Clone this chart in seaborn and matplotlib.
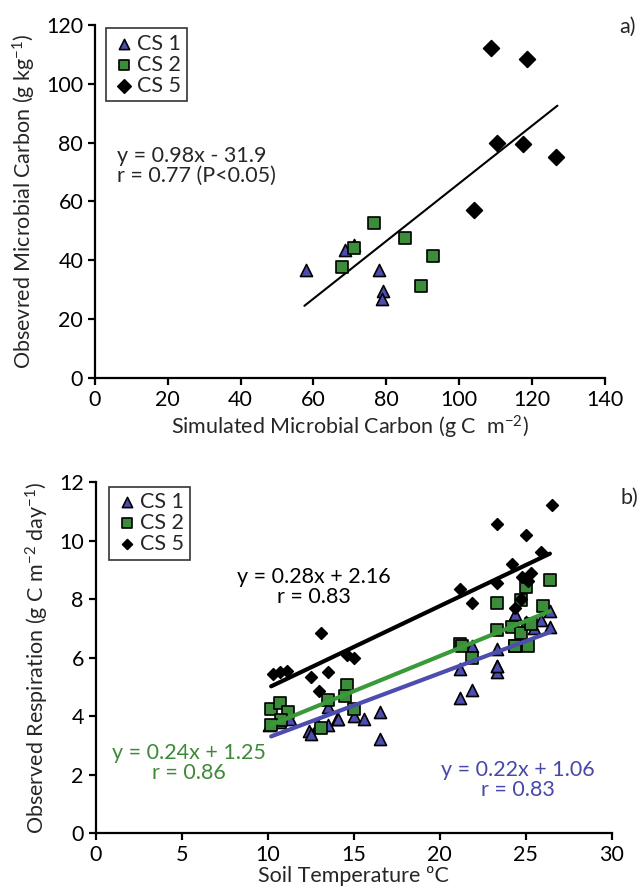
import numpy as np
import pandas as pd
import seaborn as sns
import matplotlib.pyplot as plt

# panel a: simulated vs observed microbial carbon
a_cs1_x = [58.0, 68.7, 71.0, 77.9, 79.0, 78.8]
a_cs1_y = [36.5, 43.6, 45.3, 36.7, 29.4, 26.7]
a_cs2_x = [76.7, 85.2, 92.8, 89.6, 67.7, 71.2]
a_cs2_y = [52.8, 47.4, 41.3, 31.1, 37.6, 44.1]
a_cs5_x = [104.1, 108.8, 118.7, 110.4, 117.5, 126.5]
a_cs5_y = [57.2, 112.1, 108.6, 79.9, 79.4, 75.0]
a_fit = (0.98, -31.9)
a_fit_x = [57.5, 127.0]

# panel b: soil temperature vs respiration
b_cs1_x = [10.1, 10.7, 11.3, 12.4, 12.5, 12.9, 13.5, 13.5, 14.0, 14.1, 15.0, 15.6, 16.5, 16.5,
           21.2, 21.2, 21.9, 21.9, 23.3, 23.3, 23.3, 23.3, 24.4, 25.0, 25.5, 25.9, 26.4, 26.4]
b_cs1_y = [3.7, 3.8, 3.9, 3.5, 3.4, 3.7, 3.7, 4.3, 3.9, 3.9, 4.0, 3.9, 4.15, 3.2,
           5.6, 4.6, 4.9, 6.4, 6.3, 5.7, 5.5, 5.7, 7.5, 7.2, 7.0, 7.3, 7.05, 7.6]
b_cs2_x = [10.2, 10.7, 11.2, 10.8, 10.2, 13.1, 13.5, 14.6, 14.5, 15.0,
           21.2, 21.3, 21.9, 23.3, 23.3, 24.2, 24.4, 24.4, 24.7, 24.7, 25.0, 25.1, 25.3, 26.0, 26.4]
b_cs2_y = [4.25, 4.45, 4.15, 3.85, 3.7, 3.6, 4.55, 5.05, 4.7, 4.25,
           6.45, 6.4, 6.0, 7.85, 6.95, 7.05, 6.4, 6.4, 7.95, 6.85, 8.4, 6.4, 7.15, 7.75, 8.65]
b_cs5_x = [10.3, 10.7, 11.1, 12.5, 13.5, 13.0, 13.1, 14.6, 15.0,
           21.2, 21.9, 23.3, 23.3, 24.2, 24.4, 24.7, 24.8, 25.0, 25.1, 25.3, 25.9, 26.5]
b_cs5_y = [5.45, 5.5, 5.55, 5.35, 5.5, 4.85, 6.85, 6.1, 6.0,
           8.35, 7.85, 10.55, 8.55, 9.2, 7.7, 8.0, 8.75, 10.2, 8.6, 8.9, 9.6, 11.2]
b_fit = {"CS 1": (0.22, 1.06), "CS 2": (0.24, 1.25), "CS 5": (0.28, 2.16)}
b_fit_x = [10.2, 26.4]

blue = "#4d4db0"
green = "#3b8c3b"
text_blue = "#4848a8"
text_green = "#3d8a36"
fs = 15.5

sns.set_style("white")
plt.rcParams["font.family"] = ["Lato", "DejaVu Sans"]
plt.rcParams["mathtext.fontset"] = "custom"
plt.rcParams["mathtext.rm"] = "Lato"
plt.rcParams["mathtext.it"] = "Lato:italic"
plt.rcParams["mathtext.default"] = "regular"

fig = plt.figure(figsize=(6.42, 8.9), dpi=100)
ax1 = fig.add_axes([0.148, 0.5756, 0.794, 0.3963])
ax2 = fig.add_axes([0.149, 0.064, 0.804, 0.3944])

series_a = [("CS 1", a_cs1_x, a_cs1_y, "^", blue, 75),
            ("CS 2", a_cs2_x, a_cs2_y, "s", green, 75),
            ("CS 5", a_cs5_x, a_cs5_y, "D", "black", 65)]
for name, xs, ys, m, c, s in series_a:
    sns.scatterplot(x=xs, y=ys, ax=ax1, marker=m, color=c, s=s,
                    edgecolor="black", linewidth=1.2, label=name, zorder=3)
fx = np.array(a_fit_x)
ax1.plot(fx, a_fit[0] * fx + a_fit[1], color="black", lw=1.5, zorder=2)

series_b = [("CS 1", b_cs1_x, b_cs1_y, "^", blue, 75),
            ("CS 2", b_cs2_x, b_cs2_y, "s", green, 75),
            ("CS 5", b_cs5_x, b_cs5_y, "D", "black", 35)]
for name, xs, ys, m, c, s in series_b:
    sns.scatterplot(x=xs, y=ys, ax=ax2, marker=m, color=c, s=s,
                    edgecolor="black", linewidth=1.2, label=name, zorder=3)
line_cols = {"CS 1": blue, "CS 2": "#3a9a3a", "CS 5": "black"}
fx = np.array(b_fit_x)
for name, (k, b0) in b_fit.items():
    ax2.plot(fx, k * fx + b0, color=line_cols[name], lw=3, zorder=4)

legend_pos = {ax1: (0.0216, 0.991), ax2: (0.026, 0.987)}
for ax in (ax1, ax2):
    sns.despine(ax=ax)
    for sp in ("left", "bottom"):
        ax.spines[sp].set_linewidth(1.6)
        ax.spines[sp].set_color("black")
    ax.tick_params(direction="out", length=5, width=1.6, labelsize=fs,
                   left=True, bottom=True, colors="black")
    leg = ax.legend(loc="upper left", bbox_to_anchor=legend_pos[ax], borderaxespad=0,
                    frameon=True, fancybox=False, edgecolor="black", fontsize=fs,
                    handletextpad=0.0, labelspacing=0.05, borderpad=0.25,
                    handlelength=1.2, markerscale=0.85)
    leg.get_frame().set_linewidth(1.2)

ax1.set_xlim(0, 140)
ax1.set_ylim(0, 120)
ax1.set_xticks(range(0, 141, 20))
ax1.set_yticks(range(0, 121, 20))
ax1.set_xlabel("Simulated Microbial Carbon (g C  m$^{-2}$)", fontsize=fs, labelpad=3)
ax1.set_ylabel("Obsevred Microbial Carbon (g kg$^{-1}$)", fontsize=fs, labelpad=6)
ax1.text(0.043, 0.60, "y = 0.98x - 31.9\nr = 0.77 (P<0.05)", transform=ax1.transAxes,
         fontsize=fs, ha="left", va="center", linespacing=1.0)
fig.text(0.978, 0.97, "a)", fontsize=fs, ha="center", va="center")

ax2.set_xlim(0, 30)
ax2.set_ylim(0, 12)
ax2.set_xticks(range(0, 31, 5))
ax2.set_yticks(range(0, 13, 2))
ax2.set_xlabel("Soil Temperature ºC", fontsize=fs, labelpad=1)
ax2.set_ylabel("Observed Respiration (g C m$^{-2}$ day$^{-1}$)", fontsize=fs, labelpad=6)
ax2.text(12.7, 8.42, "y = 0.28x + 2.16\nr = 0.83", fontsize=fs, ha="center", va="center",
         linespacing=1.0, color="black")
ax2.text(5.4, 2.4, "y = 0.24x + 1.25\nr = 0.86", fontsize=fs, ha="center", va="center",
         linespacing=1.0, color=text_green)
ax2.text(24.55, 1.8, "y = 0.22x + 1.06\nr = 0.83", fontsize=fs, ha="center", va="center",
         linespacing=1.0, color=text_blue)
fig.text(0.98, 0.441, "b)", fontsize=fs, ha="center", va="center")

fig.savefig("out.png", dpi=100, facecolor="white")
